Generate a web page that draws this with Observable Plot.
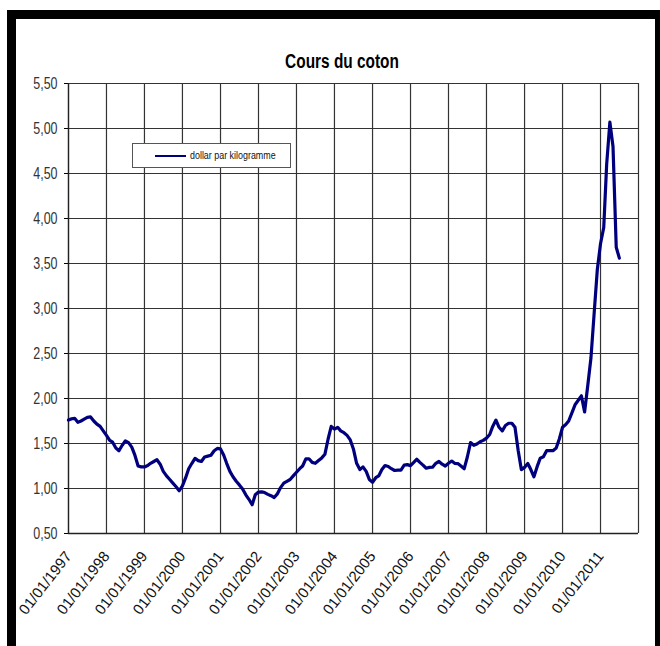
<!DOCTYPE html>
<html>
<head>
<meta charset="utf-8">
<script src="https://cdn.jsdelivr.net/npm/d3@7"></script>
<script src="https://cdn.jsdelivr.net/npm/@observablehq/plot@0.6"></script>
<style>
  html, body { margin: 0; padding: 0; overflow: hidden; background: #fff; width: 660px; height: 646px; }
  #frame { position: absolute; left: 7px; top: 10px; width: 639px; height: 700px;
           border-left: 9px solid #000; border-top: 9px solid #000; border-right: 9px solid #000; background: #fff; }
  #title { position: absolute; left: 0; width: 684px; top: 51px; text-align: center;
           font-family: "Liberation Sans", Arial, sans-serif; font-weight: bold;
           font-size: 20px; line-height: 1; color: #000; transform: scaleX(0.77); transform-origin: 342px 0; }
  #chart { position: absolute; left: 0; top: 0; }
  #legend { position: absolute; left: 132px; top: 143px; width: 159px; height: 25px;
            border: 1px solid #555; background: #fff; box-sizing: border-box; }
  #legend .sw { position: absolute; left: 22px; top: 10.5px; width: 31px; height: 2.5px; background: #00007f; }
  #legend .lb { position: absolute; left: 57px; top: 5px; font-family: "Liberation Sans", Arial, sans-serif;
                font-size: 11px; line-height: 12px; color: #111; white-space: nowrap;
                transform: scaleX(0.81); transform-origin: 0 0; }
</style>
</head>
<body>
<div id="frame"></div>
<div id="chart"></div>
<div id="title">Cours du coton</div>
<div id="legend"><div class="sw"></div><div class="lb">dollar par kilogramme</div></div>
<script>
// Monthly cotton price (dollar par kilogramme), starting January 1997
const startYear = 1997;
const seriesName = "dollar par kilogramme";
const prices = [
  // 1997
  1.76, 1.775, 1.78, 1.735, 1.75, 1.77, 1.79, 1.795, 1.75, 1.715, 1.69, 1.64,
  // 1998
  1.59, 1.535, 1.515, 1.45, 1.42, 1.48, 1.53, 1.51, 1.46, 1.37, 1.25, 1.24,
  // 1999
  1.24, 1.255, 1.28, 1.30, 1.32, 1.27, 1.19, 1.14, 1.10, 1.06, 1.02, 0.975,
  // 2000
  1.03, 1.12, 1.22, 1.28, 1.335, 1.31, 1.30, 1.35, 1.36, 1.37, 1.42, 1.445,
  // 2001
  1.44, 1.37, 1.28, 1.19, 1.13, 1.08, 1.04, 0.995, 0.93, 0.88, 0.82, 0.93,
  // 2002
  0.96, 0.963, 0.955, 0.935, 0.92, 0.90, 0.94, 1.01, 1.06, 1.08, 1.10, 1.14,
  // 2003
  1.18, 1.22, 1.25, 1.33, 1.33, 1.29, 1.28, 1.31, 1.34, 1.38, 1.55, 1.69,
  // 2004
  1.66, 1.68, 1.64, 1.62, 1.59, 1.54, 1.44, 1.28, 1.21, 1.24, 1.19, 1.10,
  // 2005
  1.07, 1.12, 1.14, 1.21, 1.255, 1.245, 1.22, 1.20, 1.205, 1.205, 1.26, 1.265,
  // 2006
  1.254, 1.29, 1.325, 1.29, 1.26, 1.225, 1.235, 1.237, 1.28, 1.30, 1.27, 1.25,
  // 2007
  1.28, 1.305, 1.28, 1.277, 1.25, 1.22, 1.35, 1.51, 1.48, 1.495, 1.52, 1.535,
  // 2008
  1.56, 1.60, 1.69, 1.76, 1.68, 1.64, 1.70, 1.725, 1.725, 1.68, 1.42, 1.21,
  // 2009
  1.235, 1.277, 1.213, 1.13, 1.24, 1.337, 1.352, 1.42, 1.42, 1.42, 1.45, 1.55,
  // 2010
  1.68, 1.71, 1.75, 1.84, 1.93, 1.98, 2.03, 1.85, 2.15, 2.45, 2.95, 3.43,
  // 2011
  3.72, 3.90, 4.60, 5.07, 4.80, 3.68, 3.56
];
const yearTicks = [1997, 1998, 1999, 2000, 2001, 2002, 2003, 2004, 2005, 2006, 2007, 2008, 2009, 2010, 2011];
const gridYears = [...yearTicks, 2012];
const yTicks = [0.5, 1.0, 1.5, 2.0, 2.5, 3.0, 3.5, 4.0, 4.5, 5.0, 5.5];

const data = prices.map((v, i) => ({date: new Date(Date.UTC(startYear, i, 1)), value: v}));
const yd = y => new Date(Date.UTC(y, 0, 1));
const fmtDate = d => "01/01/" + d.getUTCFullYear();
const fmtNum = v => v.toFixed(2).replace(".", ",");

const chart = Plot.plot({
  width: 660,
  height: 646,
  marginLeft: 68,
  marginRight: 22,
  marginTop: 83,
  marginBottom: 113,
  style: {background: "transparent", overflow: "visible", fontFamily: "Liberation Sans, Arial, sans-serif"},
  x: {type: "utc", domain: [yd(1997), yd(2012)], label: null},
  y: {domain: [0.5, 5.5], label: null},
  marks: [
    Plot.gridX(gridYears.map(yd), {stroke: "#333", strokeOpacity: 1, strokeWidth: 1.2}),
    Plot.gridY(yTicks, {stroke: "#333", strokeOpacity: 1, strokeWidth: 1.2}),
    Plot.axisY(yTicks, {tickFormat: fmtNum, tickSize: 4, tickPadding: 7, fontSize: 16,
      fontFamily: "Liberation Sans, Arial, sans-serif", fill: "#333", label: null}),
    Plot.axisX(yearTicks.map(yd), {tickFormat: fmtDate, tickSize: 0, tickPadding: 20, tickRotate: -52,
      fontSize: 15, fontFamily: "Liberation Sans, Arial, sans-serif", fill: "#111", label: null}),
    Plot.ruleY([0.5], {stroke: "#222", strokeWidth: 1.3}),
    Plot.ruleX([yd(1997)], {stroke: "#222", strokeWidth: 1.3}),
    Plot.lineY(data, {x: "date", y: "value", stroke: "#00007f", strokeWidth: 3.2, strokeLinejoin: "round", strokeLinecap: "round", title: () => seriesName})
  ]
});
// condense y tick labels horizontally (narrow face as in the original)
chart.querySelectorAll('g[aria-label="y-axis tick label"] text').forEach(t => {
  const x = +(t.getAttribute("x") || 0);
  const old = t.getAttribute("transform") || "";
  t.setAttribute("transform", `${old} translate(${x},0) scale(0.78,1) translate(${-x},0)`);
});
document.getElementById("chart").appendChild(chart);
</script>
</body>
</html>
